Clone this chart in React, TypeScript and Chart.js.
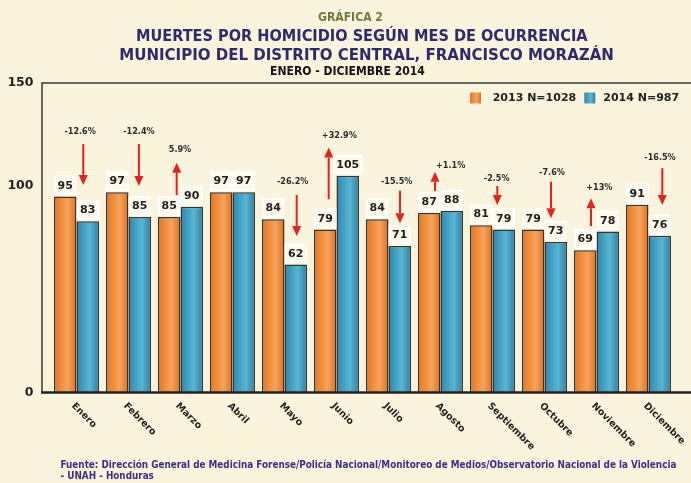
import React, { useEffect, useLayoutEffect, useRef } from 'react';
import { Chart, registerables } from 'chart.js';

Chart.register(...registerables);

// ---------- data ----------
const months = ['Enero', 'Febrero', 'Marzo', 'Abril', 'Mayo', 'Junio', 'Julio', 'Agosto', 'Septiembre', 'Octubre', 'Noviembre', 'Diciembre'];
const deaths2013 = [95, 97, 85, 97, 84, 79, 84, 87, 81, 79, 69, 91];
const deaths2014 = [83, 85, 90, 97, 62, 105, 71, 88, 79, 73, 78, 76];
const seriesLabels = ['2013 N=1028', '2014 N=987'];
const yTickValues = [0, 100, 150];
const changeLabels = ['-12.6%', '-12.4%', '5.9%', '', '-26.2%', '+32.9%', '-15.5%', '+1.1%', '-2.5%', '-7.6%', '+13%', '-16.5%'];

// annotation config (category units on x, value units on y)
const changeAnnotations = [
  { month: 0, lx: 0.07, ly: 126.2, ax: 0.13, from: 120.4, to: 100.6 },
  { month: 1, lx: 1.2, ly: 126.2, ax: 1.2, from: 120.4, to: 100.1 },
  { month: 2, lx: 1.99, ly: 117.5, ax: 1.927, from: 95.7, to: 111.4 },
  { month: 4, lx: 4.158, ly: 102.2, ax: 4.235, from: 95.7, to: 75.9 },
  { month: 5, lx: 5.054, ly: 124.5, ax: 4.85, from: 93.7, to: 118.7 },
  { month: 6, lx: 6.158, ly: 102.2, ax: 6.221, from: 97.8, to: 82.0 },
  { month: 7, lx: 7.196, ly: 109.8, ax: 6.894, from: 97.7, to: 107.0 },
  { month: 8, lx: 8.081, ly: 103.5, ax: 8.092, from: 100.1, to: 90.9 },
  { month: 9, lx: 9.144, ly: 106.5, ax: 9.125, from: 102.2, to: 84.4 },
  { month: 10, lx: 10.054, ly: 99.3, ax: 9.894, from: 80.7, to: 94.1 },
  { month: 11, lx: 11.221, ly: 114.0, ax: 11.265, from: 108.7, to: 90.9 },
];

// ---------- styles ----------
const BG = '#FBF4DC';
const ORANGE = ['#EA741B', '#F6A45C', '#E26F1B'];
const BLUE = ['#2E88AA', '#56B6D6', '#2A7F9E'];
const SOLID = ['#EE8230', '#3D9FC2'];
const TITLE_COLOR = '#2F2A6B';
const ARROW_RED = '#E5231E';
const CAT_PCT = 45 / 52;
const COND = '"DejaVu Sans Condensed", "DejaVu Sans", sans-serif';

function barGradient(ctx: any) {
  if (ctx.type !== 'data') return SOLID[ctx.datasetIndex];
  const chart = ctx.chart;
  const xs = chart.scales.x;
  if (!xs || !chart.chartArea) return SOLID[ctx.datasetIndex];
  const center = xs.getPixelForValue(ctx.dataIndex);
  const catW = xs.width / months.length;
  const bw = (catW * CAT_PCT) / 2;
  const left = ctx.datasetIndex === 0 ? center - bw : center;
  const g = chart.ctx.createLinearGradient(left, 0, left + bw, 0);
  const c = ctx.datasetIndex === 0 ? ORANGE : BLUE;
  g.addColorStop(0, c[0]);
  g.addColorStop(0.6, c[1]);
  g.addColorStop(1, c[2]);
  return g;
}

const backgroundPlugin = {
  id: 'bgFill',
  beforeDraw(chart: any) {
    const { ctx, width, height } = chart;
    ctx.save();
    ctx.fillStyle = BG;
    ctx.fillRect(0, 0, width, height);
    ctx.restore();
  },
};

const framePlugin = {
  id: 'frame',
  beforeDatasetsDraw(chart: any) {
    const { ctx, chartArea } = chart;
    ctx.save();
    ctx.strokeStyle = '#3a3a3a';
    ctx.lineWidth = 1.5;
    ctx.beginPath();
    ctx.moveTo(42, chartArea.bottom);
    ctx.lineTo(42, chartArea.top);
    ctx.lineTo(chart.width, chartArea.top);
    ctx.stroke();
    ctx.restore();
  },
  afterDatasetsDraw(chart: any) {
    const { ctx, chartArea } = chart;
    ctx.save();
    ctx.strokeStyle = '#222';
    ctx.lineWidth = 2.5;
    ctx.beginPath();
    ctx.moveTo(41, chartArea.bottom);
    ctx.lineTo(chart.width, chartArea.bottom);
    ctx.stroke();
    ctx.restore();
  },
};

const valueLabelPlugin = {
  id: 'valueLabels',
  afterDatasetsDraw(chart: any) {
    const { ctx } = chart;
    ctx.save();
    ctx.font = 'bold 11px "DejaVu Sans"';
    ctx.textAlign = 'center';
    ctx.textBaseline = 'middle';
    chart.data.datasets.forEach((ds: any, di: number) => {
      const meta = chart.getDatasetMeta(di);
      meta.data.forEach((el: any, i: number) => {
        const txt = String(ds.data[i]);
        const tw = ctx.measureText(txt).width;
        const w = tw + 5;
        const h = 17.5;
        const bottom = el.y - 2.5;
        const x0 = el.x - w / 2;
        ctx.fillStyle = '#FDF8EA';
        ctx.fillRect(x0, bottom - h, w, h);
        ctx.strokeStyle = '#FFFFFF';
        ctx.lineWidth = 2;
        ctx.strokeRect(x0, bottom - h, w, h);
        ctx.fillStyle = '#222';
        ctx.fillText(txt, el.x, bottom - h / 2 + 0.5);
      });
    });
    ctx.restore();
  },
};

const arrowPlugin = {
  id: 'arrows',
  afterDatasetsDraw(chart: any) {
    const { ctx } = chart;
    const xs = chart.scales.x;
    const ys = chart.scales.y;
    ctx.save();
    changeAnnotations.forEach((a) => {
      const lx = xs.getPixelForValue(a.lx);
      const ly = ys.getPixelForValue(a.ly);
      ctx.fillStyle = '#2a2a2a';
      ctx.font = 'bold 9px "DejaVu Sans Condensed"';
      ctx.textAlign = 'center';
      ctx.textBaseline = 'middle';
      ctx.fillText(changeLabels[a.month], lx, ly);
      const ax = xs.getPixelForValue(a.ax);
      const y1 = ys.getPixelForValue(a.from);
      const y2 = ys.getPixelForValue(a.to);
      const dir = y2 > y1 ? 1 : -1;
      const head = 10;
      const half = 4.5;
      ctx.strokeStyle = ARROW_RED;
      ctx.fillStyle = ARROW_RED;
      ctx.lineWidth = 2;
      ctx.beginPath();
      ctx.moveTo(ax, y1);
      ctx.lineTo(ax, y2 - dir * head);
      ctx.stroke();
      ctx.beginPath();
      ctx.moveTo(ax, y2);
      ctx.lineTo(ax - half, y2 - dir * head);
      ctx.lineTo(ax + half, y2 - dir * head);
      ctx.closePath();
      ctx.fill();
    });
    ctx.restore();
  },
};

const xLabelPlugin = {
  id: 'xLabels',
  afterDraw(chart: any) {
    const { ctx, chartArea } = chart;
    const xs = chart.scales.x;
    ctx.save();
    ctx.fillStyle = '#1e1e1e';
    ctx.font = 'bold 9.5px "DejaVu Sans"';
    ctx.textAlign = 'left';
    ctx.textBaseline = 'middle';
    chart.data.labels.forEach((lab: string, i: number) => {
      const x = xs.getPixelForValue(i);
      ctx.save();
      ctx.translate(x - 3.5, chartArea.bottom + 12);
      ctx.rotate(Math.PI / 4);
      ctx.fillText(lab, 0, 0);
      ctx.restore();
    });
    ctx.restore();
  },
};

const legendPlugin = {
  id: 'customLegend',
  afterDraw(chart: any) {
    const { ctx } = chart;
    const items = [
      { box: 470, text: 492.7 },
      { box: 584.3, text: 603.3 },
    ];
    ctx.save();
    ctx.font = 'bold 11px "DejaVu Sans"';
    ctx.textAlign = 'left';
    ctx.textBaseline = 'middle';
    chart.data.datasets.forEach((ds: any, i: number) => {
      const it = items[i];
      const g = ctx.createLinearGradient(it.box, 0, it.box + 11, 0);
      const c = i === 0 ? ORANGE : BLUE;
      g.addColorStop(0, c[0]);
      g.addColorStop(0.6, c[1]);
      g.addColorStop(1, c[2]);
      ctx.fillStyle = g;
      ctx.fillRect(it.box, 92.5, 11, 11);
      ctx.fillStyle = '#222';
      ctx.fillText(ds.label, it.text, 98.5);
    });
    ctx.restore();
  },
};

// Text block whose font is scaled so the first line spans the given width.
// cy = vertical centre of the first line; lh = line spacing in px (for multi-line)
function FitText(props: { lines: string[]; left: number; width: number; cy: number; base: number; lh?: number; color: string }) {
  const ref = useRef<HTMLDivElement | null>(null);
  const { lines, left, width, cy, base, color, lh } = props;
  useLayoutEffect(() => {
    const el = ref.current;
    if (!el) return;
    const first = el.firstChild as HTMLElement;
    const natural = first.getBoundingClientRect().width;
    const size = natural > 0 ? (base * width) / natural : base;
    const lineH = lh ?? size;
    el.style.fontSize = size + 'px';
    el.style.lineHeight = lineH + 'px';
    el.style.top = cy - lineH / 2 + 'px';
  }, []);
  return (
    <div
      ref={ref}
      style={{
        position: 'absolute',
        left,
        top: cy - base / 2,
        whiteSpace: 'nowrap',
        fontFamily: COND,
        fontWeight: 'bold',
        fontSize: base,
        lineHeight: `${lh ?? base}px`,
        color,
      }}
    >
      {lines.map((t, i) => (
        <span key={i} style={{ display: 'block', width: 'max-content' }}>
          {t}
        </span>
      ))}
    </div>
  );
}

export default function App() {
  const canvasRef = useRef<HTMLCanvasElement | null>(null);

  useEffect(() => {
    const canvas = canvasRef.current;
    if (!canvas) return;
    const chart = new Chart(canvas, {
      type: 'bar',
      data: {
        labels: months,
        datasets: [
          {
            label: seriesLabels[0],
            data: deaths2013,
            backgroundColor: barGradient,
            borderColor: '#333',
            borderWidth: 1.5,
            categoryPercentage: CAT_PCT,
            barPercentage: 1,
          },
          {
            label: seriesLabels[1],
            data: deaths2014,
            backgroundColor: barGradient,
            borderColor: '#333',
            borderWidth: 1.5,
            categoryPercentage: CAT_PCT,
            barPercentage: 1,
          },
        ],
      },
      options: {
        responsive: false,
        animation: false,
        devicePixelRatio: 1,
        layout: { padding: { top: 83, bottom: 90.5, left: 0, right: 16.5 } },
        plugins: {
          legend: { display: false },
          tooltip: { enabled: false },
          title: { display: false },
        },
        scales: {
          x: {
            grid: { display: false, drawTicks: false },
            border: { display: false },
            ticks: { display: false },
            afterFit: (scale: any) => {
              scale.height = 0;
            },
          },
          y: {
            min: 0,
            max: 150,
            grid: { display: false, drawTicks: false },
            border: { display: false },
            afterBuildTicks: (scale: any) => {
              scale.ticks = yTickValues.map((v) => ({ value: v }));
            },
            afterFit: (scale: any) => {
              scale.width = 50.5;
            },
            ticks: {
              padding: 17,
              color: '#222',
              font: { family: '"DejaVu Sans"', weight: 'bold', size: 12.5 },
            },
          },
        },
      },
      plugins: [backgroundPlugin, framePlugin, valueLabelPlugin, arrowPlugin, xLabelPlugin, legendPlugin],
    } as any);
    return () => chart.destroy();
  }, []);

  return (
    <div style={{ position: 'fixed', left: 0, top: 0, width: 691, height: 483, background: BG, overflow: 'hidden' }}>
      <canvas ref={canvasRef} width={691} height={483} style={{ position: 'absolute', left: 0, top: 0, width: 691, height: 483 }} />
      <FitText lines={['GRÁFICA 2']} left={318} width={65} cy={17} base={12} color="#6E7B3B" />
      <FitText lines={['MUERTES POR HOMICIDIO SEGÚN MES DE OCURRENCIA']} left={136} width={452} cy={35.8} base={16} color={TITLE_COLOR} />
      <FitText lines={['MUNICIPIO DEL DISTRITO CENTRAL, FRANCISCO MORAZÁN']} left={119.3} width={495} cy={54.5} base={16} color={TITLE_COLOR} />
      <FitText lines={['ENERO - DICIEMBRE 2014']} left={270} width={155} cy={71} base={11} color="#111" />
      <FitText
        lines={[
          'Fuente: Dirección General de Medicina Forense/Policía Nacional/Monitoreo de Medios/Observatorio Nacional de la Violencia',
          '- UNAH - Honduras',
        ]}
        left={60.5}
        width={617}
        cy={465.5}
        base={10}
        lh={10.5}
        color="#3B2E86"
      />
    </div>
  );
}
